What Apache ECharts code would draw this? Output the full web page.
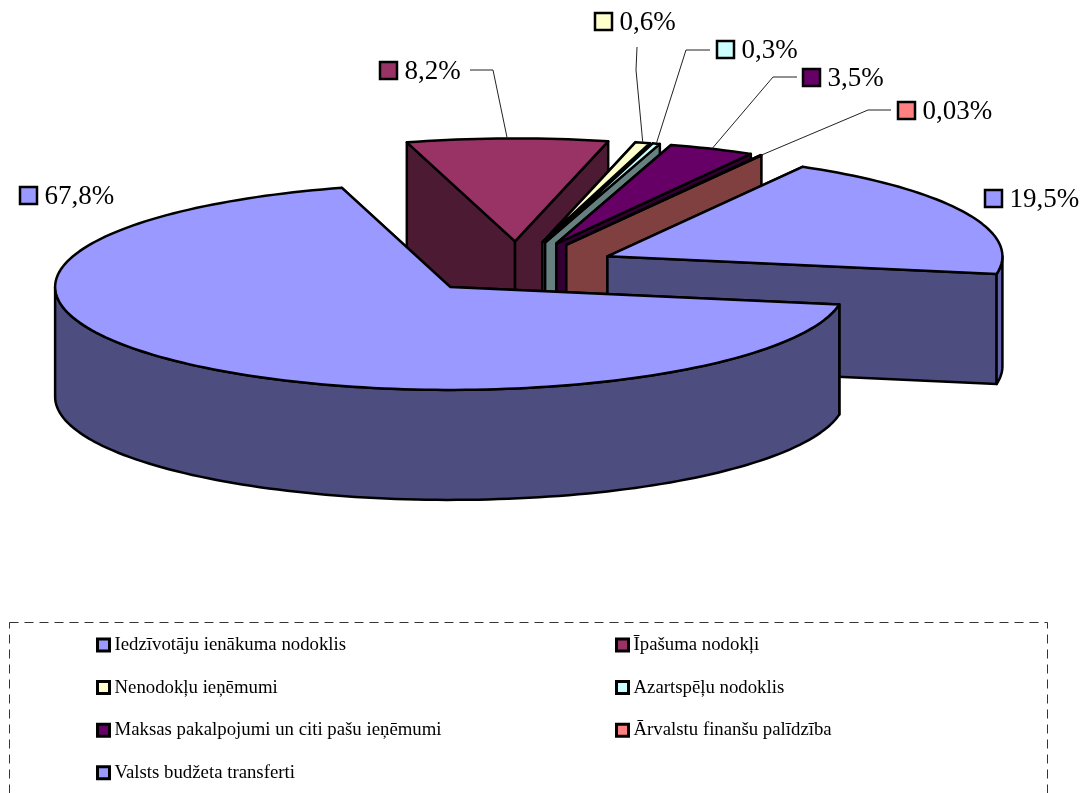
<!DOCTYPE html>
<html>
<head>
<meta charset="utf-8">
<title>Ieņēmumi</title>
<script src="https://cdn.jsdelivr.net/npm/echarts@6/dist/echarts.min.js"></script>
<style>
  html, body { margin: 0; padding: 0; background: #fff; overflow: hidden; }
  #chart { width: 1082px; height: 793px; }
</style>
</head>
<body>
<div id="chart"></div>
<script>
// slices in drawing order (back to front, clockwise on the pie)
const sliceNames = [
  'Īpašuma nodokļi',
  'Nenodokļu ieņēmumi',
  'Azartspēļu nodoklis',
  'Maksas pakalpojumi un citi pašu ieņēmumi',
  'Ārvalstu finanšu palīdzība',
  'Iedzīvotāju ienākuma nodoklis',
  'Valsts budžeta transferti'
];
const sliceValues = [8.2, 0.6, 0.3, 3.5, 0.03, 19.5, 67.8];
const topColors = ['#993366', '#ffffcc', '#ccffff', '#660066', '#ff8080', '#9999ff', '#9999ff'];
const wallColors = ['#4d1a33', '#808066', '#668080', '#330033', '#804040', '#4d4d80', '#4d4d80'];
const rimColors = ['#4d1a33', '#808066', '#668080', '#330033', '#804040', '#6262aa', '#4d4d80'];

// legend reading order, two columns
const legendOrder = [
  'Iedzīvotāju ienākuma nodoklis',
  'Īpašuma nodokļi',
  'Nenodokļu ieņēmumi',
  'Azartspēļu nodoklis',
  'Maksas pakalpojumi un citi pašu ieņēmumi',
  'Ārvalstu finanšu palīdzība',
  'Valsts budžeta transferti'
];

// data label placement: key box corner, leader elbow and end
const labelBoxes = [[380, 62], [595, 13], [717, 41], [803, 69], [898, 102], [985, 190], [20, 187]];
const labelLeaders = [
  [[493, 70], [470, 70]],
  [[636, 70], [637, 47]],
  [[686, 50], [710, 50]],
  [[773, 77], [797, 77]],
  [[868, 110], [891, 110]],
  null,
  null
];

// pie geometry
const cx = 517, cy = 267.5;
const rx = 395, ry = 103;
const depth = 110;
const explode = 100;
const firstAngle = 254.1;
const total = sliceValues.reduce((a, b) => a + b, 0);

const toRad = d => d * Math.PI / 180;

function arcPoints(ox, oy, from, to) {
  const pts = [];
  const n = Math.max(2, Math.ceil(Math.abs(to - from) / 1.5));
  for (let i = 0; i <= n; i++) {
    const a = toRad(from + (to - from) * i / n);
    pts.push([ox + rx * Math.cos(a), oy + ry * Math.sin(a)]);
  }
  return pts;
}

function poly(points, fill) {
  return {
    type: 'polygon',
    shape: { points: points },
    style: { fill: fill, stroke: '#000', lineWidth: 2.5, lineJoin: 'round' }
  };
}

function renderSlice(params, api) {
  const i = params.seriesIndex;
  let from = firstAngle;
  for (let k = 0; k < i; k++) from += sliceValues[k] / total * 360;
  const to = from + api.value(0) / total * 360;
  const mid = toRad((from + to) / 2);

  // every slice is pulled out along its bisector
  const ox = cx + explode * Math.cos(mid);
  const oy = cy + explode * ry / rx * Math.sin(mid);
  const arc = arcPoints(ox, oy, from, to);
  const down = p => [p[0], p[1] + depth];
  const apex = [ox, oy];
  const first = arc[0], last = arc[arc.length - 1];

  const children = [
    poly([apex, first, down(first), down(apex)], wallColors[i]),
    poly([apex, last, down(last), down(apex)], wallColors[i])
  ];

  // outer wall only where the rim faces the viewer
  [[0, 180], [360, 540]].forEach(function (r) {
    const a = Math.max(from, r[0]), b = Math.min(to, r[1]);
    if (b > a) {
      const rim = arcPoints(ox, oy, a, b);
      children.push(poly(rim.concat(rim.map(down).reverse()), rimColors[i]));
    }
  });

  children.push(poly([apex].concat(arc), topColors[i]));

  // leader line from the middle of the rim
  const leader = labelLeaders[i];
  if (leader) {
    children.push({
      type: 'polyline',
      shape: { points: [[ox + rx * Math.cos(mid), oy + ry * Math.sin(mid)], leader[0], leader[1]] },
      style: { fill: null, stroke: '#222', lineWidth: 1 }
    });
  }

  // key box and percentage
  const box = labelBoxes[i];
  children.push({
    type: 'rect',
    shape: { x: box[0], y: box[1], width: 17, height: 17 },
    style: { fill: topColors[i], stroke: '#000', lineWidth: 2.5 }
  });
  children.push({
    type: 'text',
    style: {
      text: String(api.value(0)).replace('.', ',') + '%',
      x: box[0] + 24.5,
      y: box[1] + 10,
      fill: '#000',
      font: '27px "Liberation Serif"',
      verticalAlign: 'middle',
      align: 'left'
    }
  });

  return { type: 'group', children: children };
}

// one legend per entry so the two columns keep their own rows
function legendEntry(name, i) {
  return {
    data: [name],
    left: i % 2 ? 615 : 96,
    top: 635.5 + 42.6 * Math.floor(i / 2),
    padding: 0,
    itemWidth: 12,
    itemHeight: 12,
    itemGap: 0,
    icon: 'rect',
    selectedMode: false,
    itemStyle: { borderColor: '#000', borderWidth: 3 },
    textStyle: { fontFamily: 'Liberation Serif', fontSize: 18.8, color: '#000', lineHeight: 19 }
  };
}

const chart = echarts.init(document.getElementById('chart'), null, { renderer: 'canvas' });
chart.setOption({
  animation: false,
  backgroundColor: '#fff',
  legend: legendOrder.map(legendEntry),
  graphic: [{
    type: 'rect',
    silent: true,
    shape: { x: 9.5, y: 622.5, width: 1038, height: 240 },
    style: { fill: null, stroke: '#333', lineWidth: 1, lineDash: [9, 6] }
  }],
  series: sliceNames.map(function (name, i) {
    return {
      type: 'custom',
      name: name,
      coordinateSystem: 'none',
      silent: true,
      itemStyle: { color: topColors[i] },
      renderItem: renderSlice,
      data: [[sliceValues[i]]]
    };
  })
});
</script>
</body>
</html>
